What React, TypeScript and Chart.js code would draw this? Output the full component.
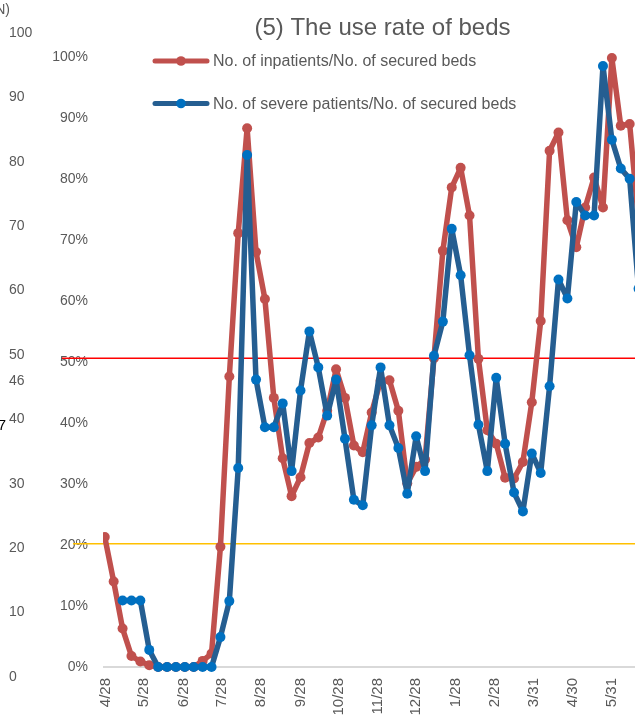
import React, { useEffect, useRef } from "react";
import { Chart, registerables } from "chart.js";

Chart.register(...registerables);

// ---- data ----
const weekDates = [
  "2020-04-27", "2020-05-04", "2020-05-11", "2020-05-18", "2020-05-25", "2020-06-01", "2020-06-08", "2020-06-15",
  "2020-06-22", "2020-06-29", "2020-07-06", "2020-07-13", "2020-07-20", "2020-07-27", "2020-08-03", "2020-08-10",
  "2020-08-17", "2020-08-24", "2020-08-31", "2020-09-07", "2020-09-14", "2020-09-21", "2020-09-28", "2020-10-05",
  "2020-10-12", "2020-10-19", "2020-10-26", "2020-11-02", "2020-11-09", "2020-11-16", "2020-11-23", "2020-11-30",
  "2020-12-07", "2020-12-14", "2020-12-21", "2020-12-28", "2021-01-04", "2021-01-11", "2021-01-18", "2021-01-25",
  "2021-02-01", "2021-02-08", "2021-02-15", "2021-02-22", "2021-03-01", "2021-03-08", "2021-03-15", "2021-03-22",
  "2021-03-29", "2021-04-05", "2021-04-12", "2021-04-19", "2021-04-26", "2021-05-03", "2021-05-10", "2021-05-17",
  "2021-05-24", "2021-05-31", "2021-06-07", "2021-06-14", "2021-06-21",
];

const inpatientRate = [
  21.3, 14.0, 6.3, 1.8, 0.9, 0.3, 0, 0, 0, 0, 0, 1.0, 2.2, 19.7, 47.6, 71.1,
  88.3, 68.0, 60.3, 44.1, 34.2, 28.0, 31.1, 36.7, 37.6, 42.0, 48.8, 44.1, 36.3, 35.2, 41.7, 46.9,
  47.0, 42.0, 30.1, 32.8, 34.0, 50.6, 68.2, 78.6, 81.8, 74.0, 50.5, 38.8, 36.6, 31.0, 30.9, 33.6,
  43.4, 56.7, 84.6, 87.6, 73.2, 68.8, 75.3, 80.2, 75.3, 99.8, 88.7, 89.0, 73.0,
];

const severeRate = [
  null, null, 10.9, 10.9, 10.9, 2.8, 0, 0, 0, 0, 0, 0, 0, 4.9, 10.8, 32.6,
  83.9, 47.1, 39.3, 39.3, 43.2, 32.1, 45.3, 55.0, 49.1, 41.2, 47.1, 37.4, 27.4, 26.5, 39.6, 49.1,
  39.6, 35.9, 28.4, 37.8, 32.1, 51.0, 56.6, 71.8, 64.2, 51.1, 39.7, 32.1, 47.4, 36.6, 28.6, 25.5,
  35.0, 31.8, 46.0, 63.5, 60.4, 76.2, 74.0, 74.0, 98.5, 86.4, 81.7, 80.0, 62.0,
];

const tickDates = [
  "2020-04-28", "2020-05-28", "2020-06-28", "2020-07-28", "2020-08-28", "2020-09-28", "2020-10-28",
  "2020-11-28", "2020-12-28", "2021-01-28", "2021-02-28", "2021-03-31", "2021-04-30", "2021-05-31",
];
const tickLabels = ["4/28", "5/28", "6/28", "7/28", "8/28", "9/28", "10/28", "11/28", "12/28", "1/28", "2/28", "3/31", "4/30", "5/31"];

const percentTicks = [0, 10, 20, 30, 40, 50, 60, 70, 80, 90, 100];
const countTicks = [0, 10, 20, 30, 40, 46, 50, 60, 70, 80, 90, 100];

const referenceLevels = [50.6, 20.2];
const referenceColors = ["#FF0000", "#FFC000"];

const titleText = "(5) The use rate of beds";
const seriesNames = ["No. of inpatients/No. of secured beds", "No. of severe patients/No. of secured beds"];
const countUnit = "(N)";
const strayLabel = "7";

// ---- helpers ----
const BASE = Date.parse("2020-04-28T00:00:00Z");
const dayOf = (iso: string) => Math.round((Date.parse(iso + "T00:00:00Z") - BASE) / 86400000);
const tickDays = tickDates.map(dayOf);
const FONT = '"Liberation Sans", Arial, sans-serif';
const GREY = "#595959";
const RED = "#C0504D";
const BLUE_LINE = "#255E91";
const BLUE_MARK = "#0070C0";

const overlay = {
  id: "overlay",
  beforeDatasetsDraw(chart: any) {
    const { ctx, chartArea, scales } = chart;
    ctx.save();
    referenceLevels.forEach((v, i) => {
      const py = scales.y.getPixelForValue(v);
      const x0 = chartArea.left - (i === 0 ? 41 : 30);
      ctx.strokeStyle = referenceColors[i];
      ctx.lineWidth = 1.5;
      ctx.beginPath();
      ctx.moveTo(x0, py);
      ctx.lineTo(chartArea.right, py);
      ctx.stroke();
    });
    ctx.restore();
  },
  afterDraw(chart: any) {
    const { ctx } = chart;
    ctx.save();
    // title
    ctx.font = `24px ${FONT}`;
    ctx.fillStyle = GREY;
    ctx.textAlign = "center";
    ctx.textBaseline = "alphabetic";
    ctx.fillText(titleText, 382.5, 35);
    // legend
    const items = [
      { name: seriesNames[0], line: RED, mark: RED, y: 61 },
      { name: seriesNames[1], line: BLUE_LINE, mark: BLUE_MARK, y: 103.5 },
    ];
    items.forEach((it) => {
      ctx.strokeStyle = it.line;
      ctx.lineWidth = 5;
      ctx.lineCap = "round";
      ctx.beginPath();
      ctx.moveTo(155, it.y);
      ctx.lineTo(207, it.y);
      ctx.stroke();
      ctx.fillStyle = it.mark;
      ctx.beginPath();
      ctx.arc(181, it.y, 4.8, 0, Math.PI * 2);
      ctx.fill();
      ctx.font = `16px ${FONT}`;
      ctx.fillStyle = GREY;
      ctx.textAlign = "left";
      ctx.textBaseline = "middle";
      ctx.fillText(it.name, 213, it.y + 1);
    });
    // fragments at the left edge
    ctx.font = `14px ${FONT}`;
    ctx.fillStyle = GREY;
    ctx.textAlign = "right";
    ctx.textBaseline = "middle";
    ctx.fillText(countUnit, 10, 10);
    ctx.font = `15px ${FONT}`;
    ctx.fillStyle = "#000000";
    ctx.fillText(strayLabel, 6, 426);
    ctx.restore();
  },
};

export default function App() {
  const canvasRef = useRef<HTMLCanvasElement | null>(null);

  useEffect(() => {
    document.body.style.margin = "0";
    document.body.style.overflow = "hidden";
    const canvas = canvasRef.current!;
    const xs = weekDates.map(dayOf);
    const common = {
      pointBorderWidth: 0,
      pointRadius: 5,
      borderWidth: 5.5,
      borderJoinStyle: "round",
      borderCapStyle: "round",
      tension: 0,
      yAxisID: "y",
    };
    const chart = new Chart(canvas, {
      type: "line",
      data: {
        datasets: [
          {
            ...common,
            label: seriesNames[1],
            data: severeRate.map((v, i) => ({ x: xs[i], y: v })) as any,
            borderColor: BLUE_LINE,
            backgroundColor: BLUE_MARK,
            pointBackgroundColor: BLUE_MARK,
            pointBorderColor: BLUE_MARK,
            order: 0,
          },
          {
            ...common,
            label: seriesNames[0],
            data: inpatientRate.map((v, i) => ({ x: xs[i], y: v })) as any,
            borderColor: RED,
            backgroundColor: RED,
            pointBackgroundColor: RED,
            pointBorderColor: RED,
            order: 1,
          },
        ],
      },
      options: {
        animation: false,
        responsive: false,
        events: [],
        layout: { padding: { left: 9, top: 33, right: 10, bottom: 0 } },
        plugins: { legend: { display: false }, title: { display: false }, tooltip: { enabled: false } },
        scales: {
          x: {
            type: "linear",
            min: -2.4,
            max: 428,
            grid: { display: false },
            border: { display: false },
            afterBuildTicks: (axis: any) => {
              axis.ticks = tickDays.map((v) => ({ value: v }));
            },
            afterFit: (axis: any) => {
              axis.height = 44;
            },
            ticks: {
              autoSkip: false,
              minRotation: 90,
              maxRotation: 90,
              padding: -7,
              color: GREY,
              font: { size: 15, family: FONT },
              callback: (v: any) => {
                const i = tickDays.indexOf(Number(v));
                return i >= 0 ? tickLabels[i] : "";
              },
            },
          },
          y: {
            position: "left",
            weight: 0,
            min: -1.64,
            max: 103.9,
            afterBuildTicks: (axis: any) => {
              axis.ticks = percentTicks.map((v) => ({ value: v }));
            },
            afterFit: (axis: any) => {
              axis.width = 53;
            },
            grid: {
              drawTicks: false,
              lineWidth: 2,
              color: (c: any) => (c.tick && c.tick.value === 0 ? "#D9D9D9" : "rgba(0,0,0,0)"),
            },
            border: { display: false },
            ticks: {
              autoSkip: false,
              padding: 15,
              color: GREY,
              font: { size: 14, family: FONT },
              callback: (v: any) => `${v}%`,
            },
          },
          y2: {
            position: "left",
            weight: 10,
            min: 0,
            max: 100,
            afterBuildTicks: (axis: any) => {
              axis.ticks = countTicks.map((v) => ({ value: v }));
            },
            afterFit: (axis: any) => {
              axis.width = 41;
            },
            grid: { display: false, drawTicks: false },
            border: { display: false },
            ticks: {
              autoSkip: false,
              crossAlign: "far",
              padding: 0,
              color: GREY,
              font: { size: 14, family: FONT },
              callback: (v: any) => String(v),
            },
          },
        },
      } as any,
      plugins: [overlay],
    });
    return () => chart.destroy();
  }, []);

  return (
    <div style={{ position: "relative", width: 635, height: 721, overflow: "hidden" }}>
      <canvas ref={canvasRef} width={660} height={721} style={{ position: "absolute", left: 0, top: 0, width: 660, height: 721 }} />
    </div>
  );
}
